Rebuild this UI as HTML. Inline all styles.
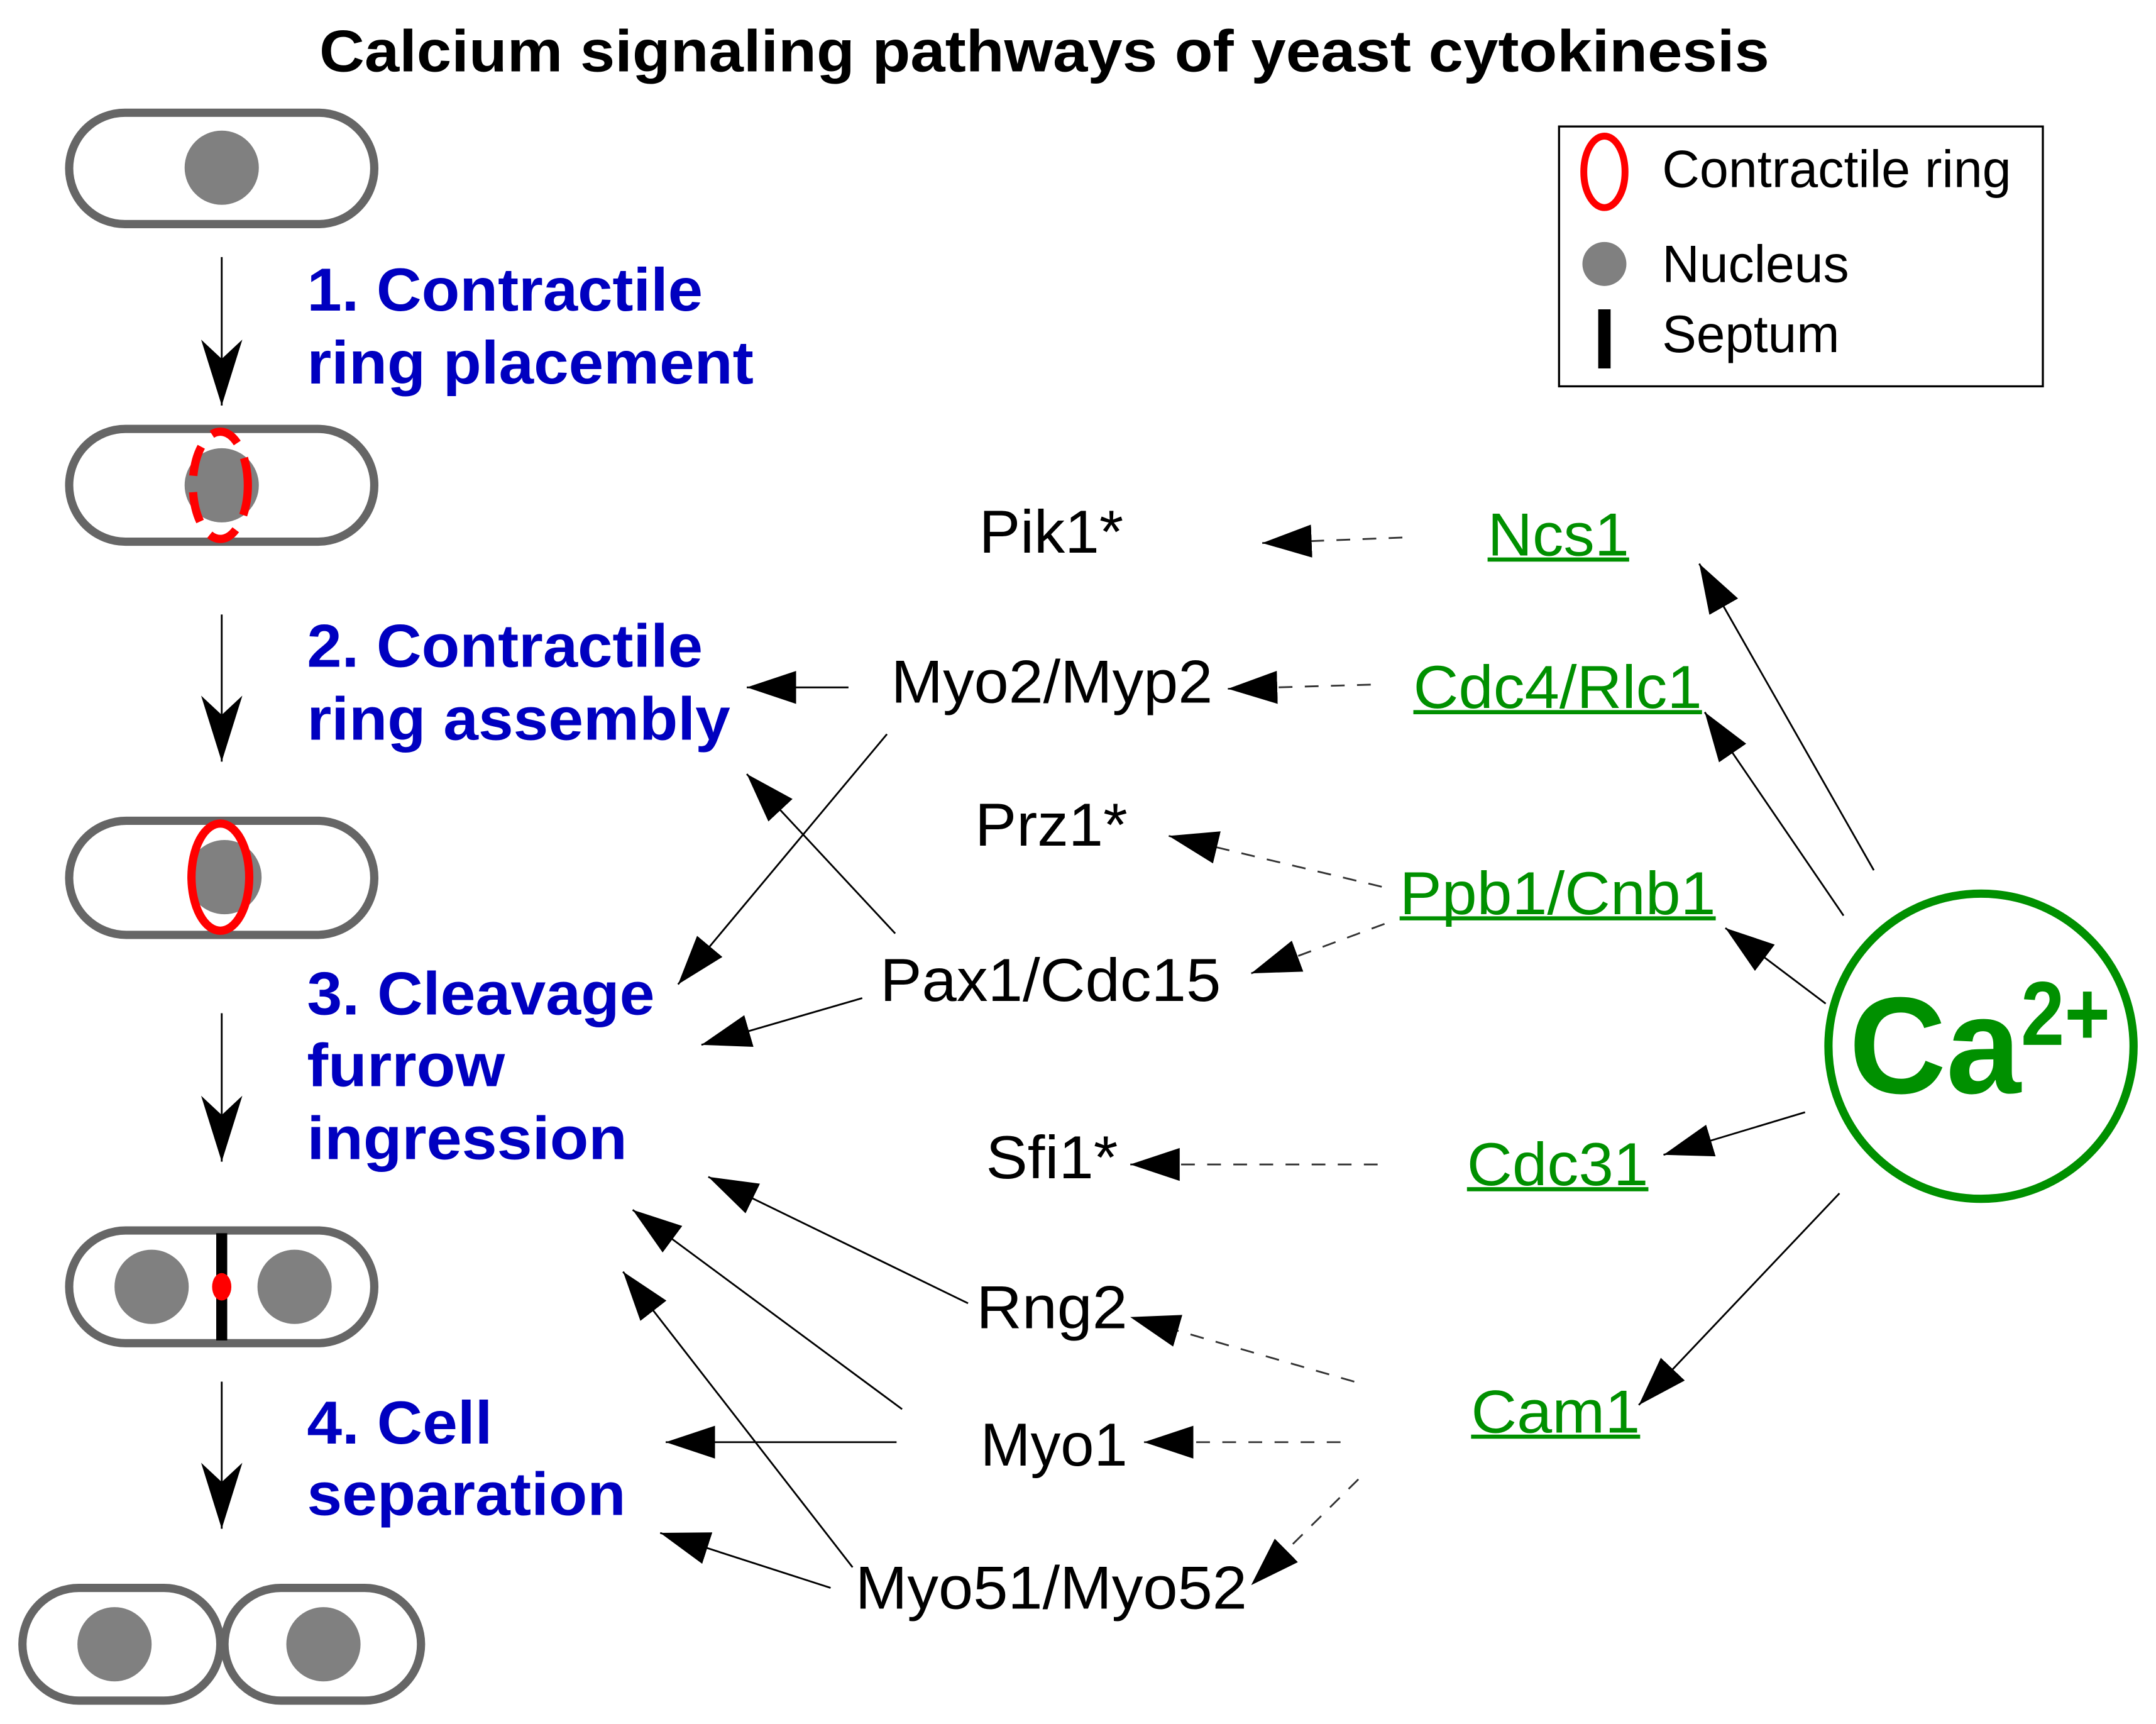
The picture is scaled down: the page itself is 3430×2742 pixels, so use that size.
<!DOCTYPE html>
<html><head><meta charset="utf-8"><style>
html,body{margin:0;padding:0;background:#fff;}
svg{display:block;}
text{font-family:"Liberation Sans",Arial,sans-serif;}
</style></head><body>
<svg width="3430" height="2742" viewBox="0 0 1568 1254" xmlns="http://www.w3.org/2000/svg">
<defs>
<marker id="a" markerUnits="userSpaceOnUse" markerWidth="40" markerHeight="30" refX="36" refY="12" orient="auto">
<path d="M0,0 L36,12 L0,24 Z" fill="#000"/></marker>
<marker id="v" markerUnits="userSpaceOnUse" markerWidth="60" markerHeight="40" refX="48" refY="15" orient="auto">
<path d="M0,0 L48,15 L0,30 L14,15 Z" fill="#000"/></marker>
</defs>
<rect width="1568" height="1254" fill="#fff"/>
<text x="232" y="52" font-size="43" font-weight="bold" textLength="1055" lengthAdjust="spacingAndGlyphs">Calcium signaling pathways of yeast cytokinesis</text>

<g fill="none" stroke="#666" stroke-width="6">
<rect x="50" y="82" width="222" height="81" rx="40.5"/>
<rect x="50" y="312" width="222" height="82" rx="41"/>
<rect x="50" y="597" width="222" height="83" rx="41.5"/>
<rect x="50" y="895" width="222" height="82" rx="41"/>
<rect x="16" y="1155" width="144" height="82" rx="41"/>
<rect x="163" y="1155" width="143" height="82" rx="41"/>
</g>
<g fill="#808080">
<circle cx="161" cy="122" r="27"/>
<circle cx="161" cy="353" r="27"/>
<circle cx="163" cy="638" r="27"/>
<circle cx="110" cy="936" r="27"/><circle cx="214" cy="936" r="27"/>
<circle cx="83" cy="1196" r="27"/><circle cx="235" cy="1196" r="27"/>
</g>
<ellipse cx="160" cy="353" rx="20" ry="39" fill="none" stroke="#f00" stroke-width="6" stroke-dasharray="22,12"/>
<ellipse cx="160" cy="638" rx="21" ry="39" fill="none" stroke="#f00" stroke-width="6"/>
<line x1="161" y1="897" x2="161" y2="975" stroke="#000" stroke-width="8"/>
<ellipse cx="161" cy="936" rx="7" ry="10" fill="#f00"/>

<g stroke="#000" stroke-width="1.3" marker-end="url(#v)">
<line x1="161" y1="187" x2="161" y2="295"/>
<line x1="161" y1="447" x2="161" y2="554"/>
<line x1="161" y1="737" x2="161" y2="845"/>
<line x1="161" y1="1005" x2="161" y2="1112"/>
</g>

<g fill="#0000c0" font-size="44" font-weight="bold" lengthAdjust="spacingAndGlyphs">
<text x="223" y="226" textLength="288" lengthAdjust="spacingAndGlyphs">1. Contractile</text>
<text x="223" y="279" textLength="325" lengthAdjust="spacingAndGlyphs">ring placement</text>
<text x="223" y="485" textLength="288" lengthAdjust="spacingAndGlyphs">2. Contractile</text>
<text x="223" y="538" textLength="308" lengthAdjust="spacingAndGlyphs">ring assembly</text>
<text x="223" y="738" textLength="253" lengthAdjust="spacingAndGlyphs">3. Cleavage</text>
<text x="223" y="790" textLength="144" lengthAdjust="spacingAndGlyphs">furrow</text>
<text x="223" y="843" textLength="233" lengthAdjust="spacingAndGlyphs">ingression</text>
<text x="223" y="1050" textLength="135" lengthAdjust="spacingAndGlyphs">4. Cell</text>
<text x="223" y="1102" textLength="232" lengthAdjust="spacingAndGlyphs">separation</text>
</g>

<rect x="1134" y="92" width="352" height="189" fill="none" stroke="#000" stroke-width="1.5"/>
<ellipse cx="1167" cy="125" rx="15" ry="26" fill="none" stroke="#f00" stroke-width="5"/>
<circle cx="1167" cy="192" r="16" fill="#808080"/>
<line x1="1167" y1="225" x2="1167" y2="268" stroke="#000" stroke-width="9"/>
<g font-size="38">
<text x="1209" y="136" textLength="254" lengthAdjust="spacingAndGlyphs">Contractile ring</text>
<text x="1209" y="205" textLength="136" lengthAdjust="spacingAndGlyphs">Nucleus</text>
<text x="1209" y="256" textLength="129" lengthAdjust="spacingAndGlyphs">Septum</text></g>

<g font-size="44">
<text x="712" y="402" textLength="105" lengthAdjust="spacingAndGlyphs">Pik1*</text>
<text x="648" y="511" textLength="234" lengthAdjust="spacingAndGlyphs">Myo2/Myp2</text>
<text x="709" y="615" textLength="111" lengthAdjust="spacingAndGlyphs">Prz1*</text>
<text x="640" y="728" textLength="248" lengthAdjust="spacingAndGlyphs">Pax1/Cdc15</text>
<text x="717" y="857" textLength="96" lengthAdjust="spacingAndGlyphs">Sfi1*</text>
<text x="710" y="966" textLength="110" lengthAdjust="spacingAndGlyphs">Rng2</text>
<text x="713" y="1066" textLength="107" lengthAdjust="spacingAndGlyphs">Myo1</text>
<text x="622" y="1170" textLength="285" lengthAdjust="spacingAndGlyphs">Myo51/Myo52</text>
</g>
<g font-size="44" fill="#009000">
<text x="1082" y="404" textLength="103" lengthAdjust="spacingAndGlyphs">Ncs1</text>
<text x="1028" y="515" textLength="210" lengthAdjust="spacingAndGlyphs">Cdc4/Rlc1</text>
<text x="1018" y="665" textLength="230" lengthAdjust="spacingAndGlyphs">Ppb1/Cnb1</text>
<text x="1067" y="862" textLength="132" lengthAdjust="spacingAndGlyphs">Cdc31</text>
<text x="1070" y="1042" textLength="123" lengthAdjust="spacingAndGlyphs">Cam1</text>
</g>
<g stroke="#009000" stroke-width="3">
<line x1="1082" y1="407" x2="1185" y2="407"/><line x1="1028" y1="518" x2="1238" y2="518"/>
<line x1="1018" y1="668" x2="1248" y2="668"/><line x1="1067" y1="865" x2="1199" y2="865"/>
<line x1="1070" y1="1045" x2="1193" y2="1045"/>
</g>
<circle cx="1441" cy="761" r="111" fill="none" stroke="#009000" stroke-width="6"/>
<text x="1345" y="795" font-size="100" font-weight="bold" fill="#009000" textLength="125" lengthAdjust="spacingAndGlyphs">Ca</text>
<text x="1470" y="760" font-size="66" font-weight="bold" fill="#009000" textLength="65" lengthAdjust="spacingAndGlyphs">2+</text>

<g stroke="#333" stroke-width="1.3" stroke-dasharray="10,9" marker-end="url(#a)">
<line x1="1020" y1="391" x2="918" y2="395"/>
<line x1="997" y1="498" x2="893" y2="501"/>
<line x1="1005" y1="645" x2="850" y2="608"/>
<line x1="1007" y1="672" x2="910" y2="708"/>
<line x1="1002" y1="847" x2="822" y2="847"/>
<line x1="985" y1="1005" x2="822" y2="958"/>
<line x1="975" y1="1049" x2="832" y2="1049"/>
<line x1="988" y1="1076" x2="910" y2="1153"/>
</g>
<g stroke="#000" stroke-width="1.3" marker-end="url(#a)">
<line x1="1363" y1="633" x2="1236" y2="410"/>
<line x1="1341" y1="666" x2="1240" y2="518"/>
<line x1="1328" y1="730" x2="1255" y2="675"/>
<line x1="1313" y1="809" x2="1210" y2="840"/>
<line x1="1338" y1="868" x2="1192" y2="1022"/>
<line x1="617" y1="500" x2="543" y2="500"/>
<line x1="645" y1="534" x2="493" y2="716"/>
<line x1="651" y1="679" x2="543" y2="563"/>
<line x1="627" y1="726" x2="510" y2="760"/>
<line x1="704" y1="948" x2="515" y2="856"/>
<line x1="656" y1="1025" x2="460" y2="880"/>
<line x1="652" y1="1049" x2="484" y2="1049"/>
<line x1="620" y1="1140" x2="453" y2="925"/>
<line x1="604" y1="1155" x2="480" y2="1115"/>
</g>
</svg>
</body></html>
